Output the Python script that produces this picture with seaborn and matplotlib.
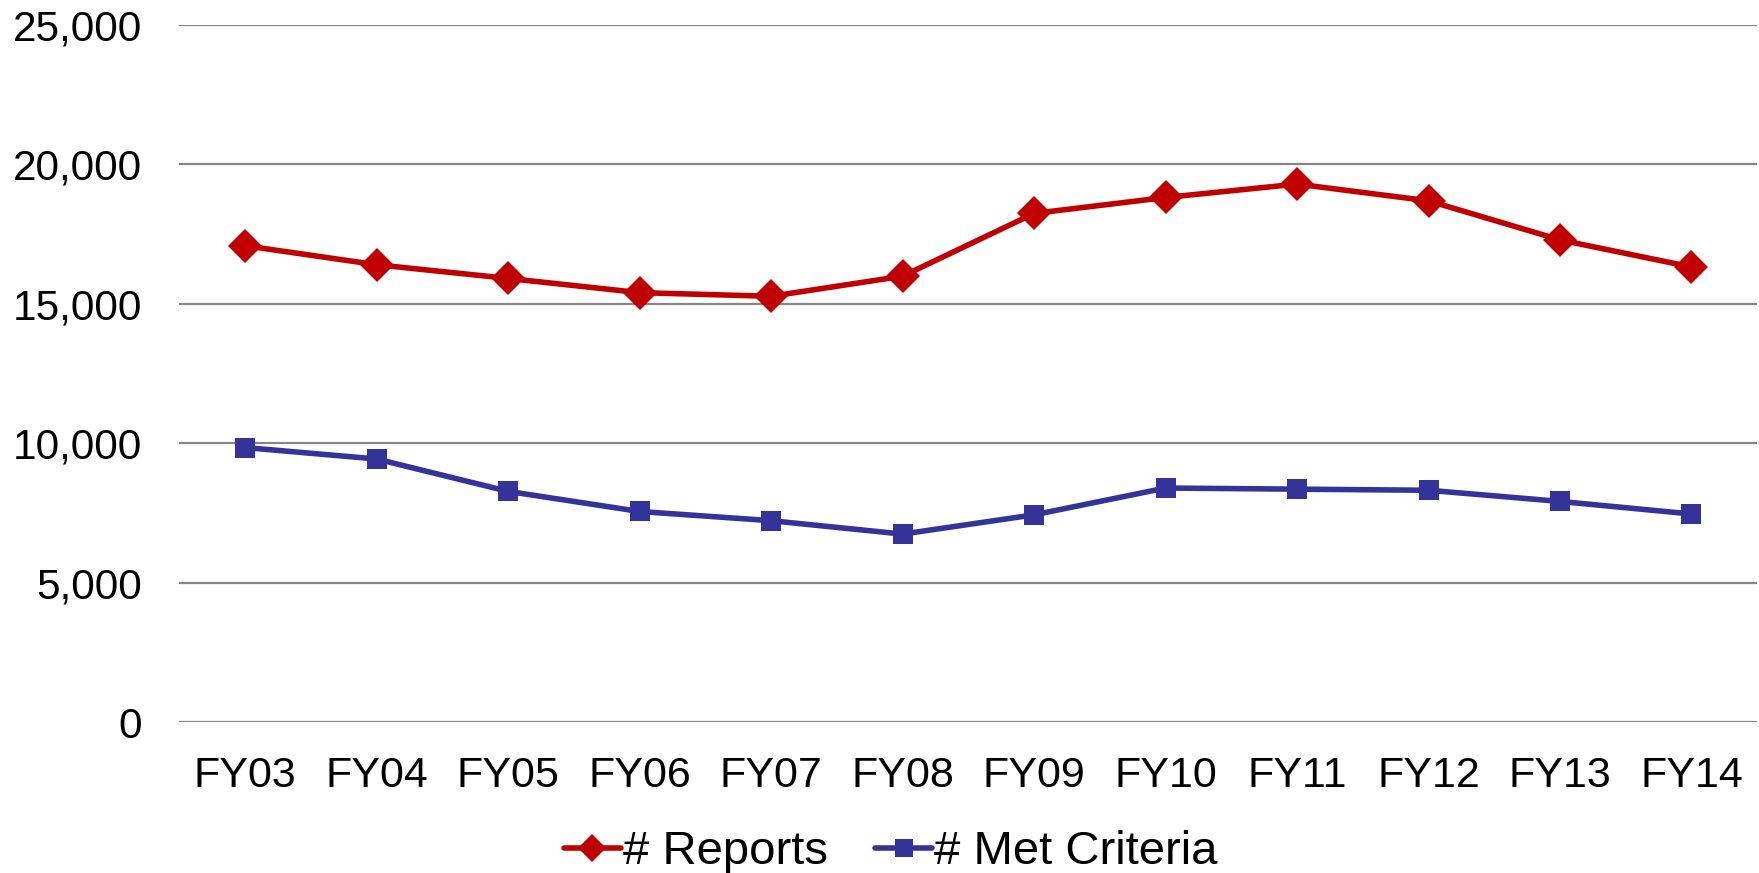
import pandas as pd
import numpy as np
import matplotlib
matplotlib.use("Agg")
import matplotlib.pyplot as plt
import seaborn as sns

years = ["FY03", "FY04", "FY05", "FY06", "FY07", "FY08",
         "FY09", "FY10", "FY11", "FY12", "FY13", "FY14"]
reports = [17080, 16400, 15910, 15400, 15270, 15990,
           18240, 18810, 19290, 18690, 17290, 16320]
met_criteria = [9850, 9440, 8280, 7560, 7230, 6750,
                7440, 8400, 8360, 8320, 7920, 7470]

sns.set_style("white")
plt.rcParams['font.family'] = ['Liberation Sans', 'DejaVu Sans']
plt.rcParams['text.color'] = 'black'

fig = plt.figure(figsize=(17.59, 8.73), dpi=100)
ax = fig.add_axes([0.102, 0.1724, 0.897, 0.7993])

sns.lineplot(x=years, y=reports, ax=ax, color="#C00000", marker="D",
             markersize=17, linewidth=4, markeredgewidth=0, label="# Reports")
sns.lineplot(x=years, y=met_criteria, ax=ax, color="#333399", marker="s",
             markersize=15, linewidth=4, markeredgewidth=0, label="# Met Criteria")

ax.set_ylim(0, 25000)
ax.set_xlim(-0.5, 11.5)
ax.set_yticks(range(0, 25001, 5000))
ax.yaxis.set_major_formatter(matplotlib.ticker.FuncFormatter(lambda v, p: f"{int(v):,}"))
ax.yaxis.grid(True, color="#868686", linewidth=1.6)
ax.set_axisbelow(True)
for s in ax.spines.values():
    s.set_visible(False)
ax.tick_params(axis="both", length=0, labelsize=31, colors="black")
ax.tick_params(axis="y", labelsize=30.5, pad=27)
ax.tick_params(axis="x", pad=24)
ax.set_xlabel("")
ax.set_ylabel("")

ax.get_legend().remove()
h, l = ax.get_legend_handles_labels()
fig.legend(h, l, loc="lower center", bbox_to_anchor=(0.5065, -0.05), ncol=2,
           frameon=False, fontsize=34, handlelength=1.2, handletextpad=0.05,
           columnspacing=1.0, labelcolor="black", markerscale=0.85)

fig.savefig("out.png", dpi=100)
